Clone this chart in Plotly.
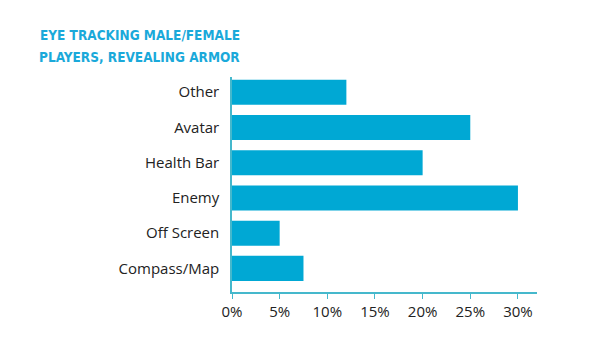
import plotly.graph_objects as go

categories = ["Compass/Map", "Off Screen", "Enemy", "Health Bar", "Avatar", "Other"]
values = [7.5, 5, 30, 20, 25, 12]
tick_vals = [0, 5, 10, 15, 20, 25, 30]
tick_text = ["0%", "5%", "10%", "15%", "20%", "25%", "30%"]
title_lines = ["EYE TRACKING MALE/FEMALE", "PLAYERS, REVEALING ARMOR"]

W, H = 594, 360
L, R, T, B = 232, 57, 77, 68
PW, PH = W - L - R, H - T - B

fig = go.Figure(go.Bar(
    x=values, y=categories, orientation="h",
    marker=dict(color="#00a8d4", line=dict(width=0)),
    width=0.71,
))

title_ys = [35, 57]
annotations = [dict(
    text="<b>" + line + "</b>",
    xref="paper", yref="paper",
    x=(242 - L) / PW, y=1 + (T - yc) / PH,
    xanchor="right", yanchor="middle",
    showarrow=False,
    font=dict(family="DejaVu Sans Condensed", size=13.5, color="#1aa9da"),
) for line, yc in zip(title_lines, title_ys)]

fig.update_layout(
    width=W, height=H,
    margin=dict(l=L, r=R, t=T, b=B),
    paper_bgcolor="white", plot_bgcolor="white",
    showlegend=False,
    xaxis=dict(range=[0, 32], tickvals=tick_vals, ticktext=tick_text,
               showgrid=False, zeroline=False, showline=True,
               linecolor="#45b8cc", linewidth=1.5,
               ticks="outside", ticklen=5, tickcolor="#45b8cc",
               tickfont=dict(family="Open Sans", size=15, color="#222")),
    yaxis=dict(range=[-0.67, 5.43], showgrid=False, zeroline=False,
               showline=True, linecolor="#45b8cc", linewidth=1.5,
               ticks="", ticklabelstandoff=8,
               tickfont=dict(family="Open Sans", size=15, color="#222")),
    annotations=annotations,
)

fig.write_html("out.html", config={"displayModeBar": False},
               post_script="document.body.style.margin='0';")
